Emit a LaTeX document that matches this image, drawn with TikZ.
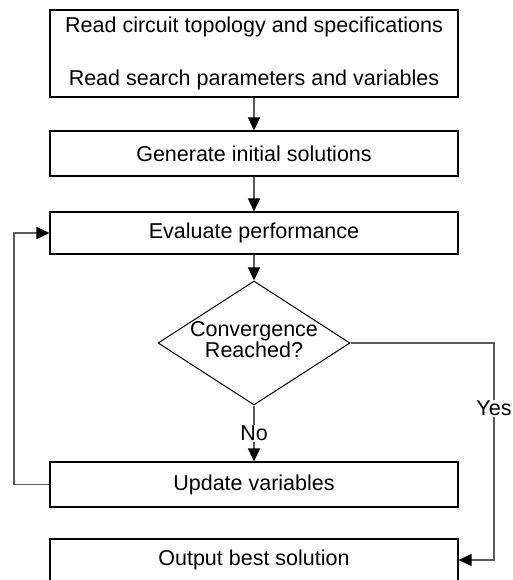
\documentclass[tikz,border=0pt]{standalone}
\usepackage{fontspec}
\setmainfont{Liberation Sans}
\usetikzlibrary{arrows.meta,shapes.geometric}
\begin{document}
\begin{tikzpicture}[x=1pt,y=-1pt,line join=miter,
  font=\fontsize{21.5}{25}\selectfont,
  >={Triangle[length=13pt,width=12pt,color=black]},
  stepbox/.style={draw,line width=1.1pt,minimum width=408pt,inner sep=0pt},
  test/.style={draw,diamond,line width=1pt,minimum width=192pt,minimum height=124pt,inner sep=0pt},
  flow/.style={draw=black!65,line width=1.3pt}]
\useasboundingbox (0,0) rectangle (512,580);
% boxes
\node[stepbox,minimum height=87pt,align=center] (read) at (254,53.5)
  {Read circuit topology and specifications\\[28pt]Read search parameters and variables};
\node[stepbox,minimum height=45pt] (gen) at (254,153.5) {Generate initial solutions};
\node[stepbox,minimum height=42pt] (eval) at (254,233) {Evaluate performance};
\node[test,label={[align=center,font=\fontsize{21.5}{20}\selectfont,yshift=3pt]center:Convergence\\Reached?}] (conv) at (254,343) {};
\node[stepbox,minimum height=45pt] (upd) at (254,484.5) {Update variables};
\node[stepbox,minimum height=42pt] (out) at (254,560) {Output best solution};
\coordinate (back) at (14,484.5);
\coordinate (yesturn) at (494,343);
% connectors
\draw[flow,->] (read) -- (gen);
\draw[flow,->] (gen) -- (eval);
\draw[flow,->] (eval) -- (conv);
\draw[flow,->] (conv) -- node[fill=white,inner sep=1pt] {No} (upd);
\draw[flow,->] (upd.west) -- (back) |- (eval.west);
\draw[flow,->] (conv.east) -- (yesturn) -- node[pos=0.3,fill=white,inner sep=1pt] {Yes} (yesturn |- out.east) -- (out.east);
\end{tikzpicture}
\end{document}
